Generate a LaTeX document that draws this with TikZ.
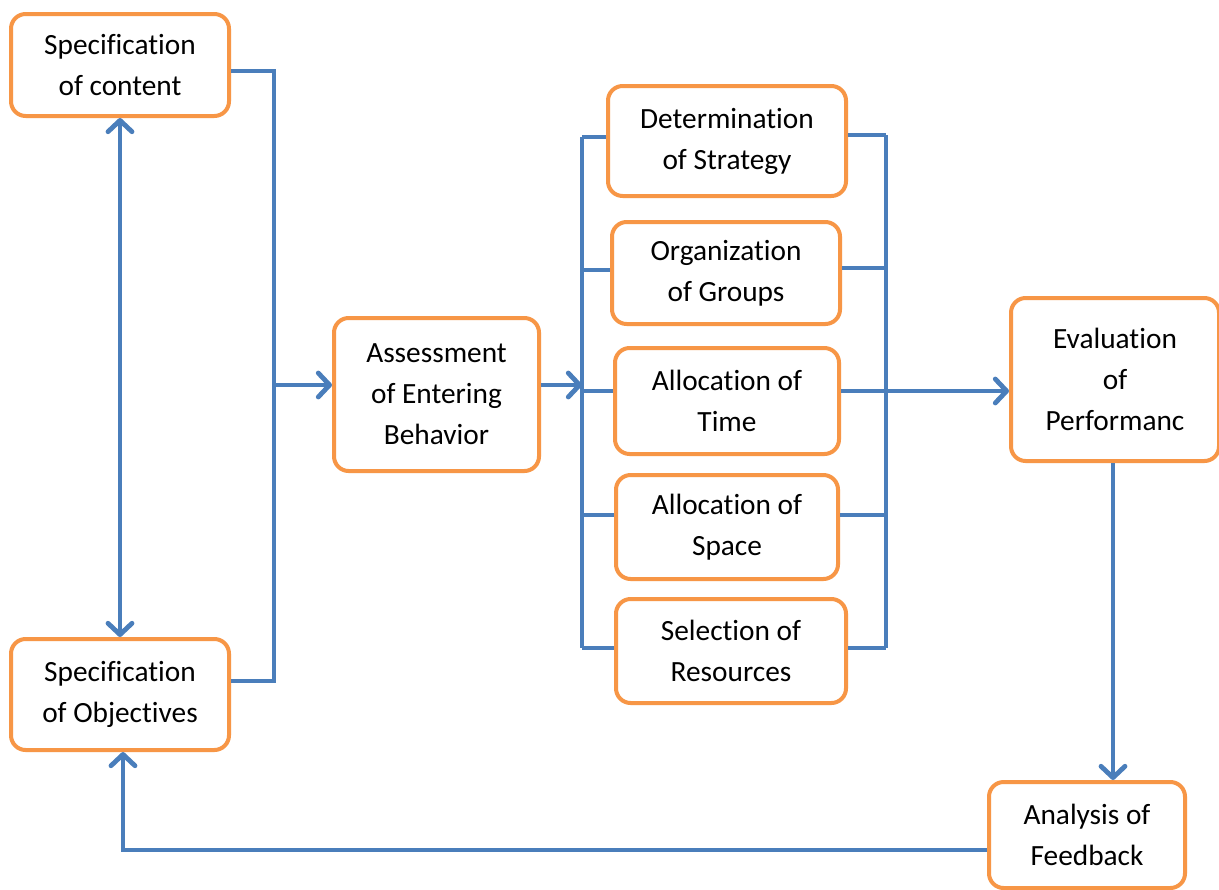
\documentclass[tikz,border=0pt]{standalone}
\usepackage{fontspec}
\setmainfont[RawFeature={-liga;-clig;-dlig;-calt}]{Carlito}
\usetikzlibrary{arrows.meta}
\definecolor{boxorange}{HTML}{F79646}
\definecolor{linkblue}{HTML}{4A7EBB}
\begin{document}
\begin{tikzpicture}[x=0.75pt,y=-0.75pt,
  box/.style 2 args={draw=boxorange, line width=3pt, rounded corners=11pt,
    fill=white, align=center, inner sep=0pt,
    minimum width=#1*0.75pt, minimum height=#2*0.75pt,
    font=\fontsize{22}{30.75}\selectfont},
  conn/.style={draw=linkblue, line width=3.2pt},
  tipb/.style={},
  arr/.style={conn, -{Straight Barb[length=8.5pt,width=18pt,line width=3.6pt,line cap=round,line join=round]}},
  arrtwo/.style={conn, {Straight Barb[length=8.5pt,width=18pt,line width=3.6pt,line cap=round,line join=round]}-{Straight Barb[length=8.5pt,width=18pt,line width=3.6pt,line cap=round,line join=round]}}
]
\useasboundingbox (0,0) rectangle (1219,889);
\clip (0,0) rectangle (1219,889);
\fill[white] (0,0) rectangle (1219,889);

% nodes
\node[box={218}{102}] (sc) at (120,65) {Specification\\of content};
\node[box={218}{111}] (so) at (120,694.5) {Specification\\of Objectives};
\node[box={205}{153}] (ae) at (436.5,394.5) {Assessment\\of Entering\\Behavior};
\node[box={238}{110}] (ds) at (727,141) {Determination\\of Strategy};
\node[box={228}{102}] (og) at (726,273) {Organization\\of Groups};
\node[box={224}{106}] (at) at (727,401) {Allocation of\\Time};
\node[box={222}{104}] (as) at (727,527) {Allocation of\\Space};
\node[box={230}{104}] (sr) at (731,651) {Selection of\\Resources};
\node[box={208}{163}] (ep) at (1115,379.5) {Evaluation\\of\\Performanc};
\node[box={196}{106}] (af) at (1087,835) {Analysis of\\Feedback};

% junction coordinates
\coordinate (ltop) at (274,71);
\coordinate (lbot) at (274,681);
\coordinate (lmid) at (274,385);
\coordinate (btop) at (582,137);
\coordinate (bbot) at (582,648);
\coordinate (bmid) at (582,385);
\coordinate (rtop) at (886,135);
\coordinate (rbot) at (886,648);
\coordinate (rmid) at (886,391);
\coordinate (ev) at (1113,463);
\coordinate (fb) at (123,850);

% left join
\draw[conn] (sc.east |- ltop) -- (ltop) -- (lbot) -- (so.east |- lbot);
\draw[arr] (lmid) -- (ae.west |- lmid);
\draw[arrtwo] (sc.south) -- (so.north);

% left bracket
\draw[conn] (btop) -- (bbot);
\draw[arr] (ae.east |- bmid) -- (bmid);
\draw[conn] (btop) -- (ds.west |- btop);
\draw[conn] (btop |- 0,270) -- (og.west |- 0,270);
\draw[conn] (btop |- 0,391) -- (at.west |- 0,391);
\draw[conn] (btop |- 0,515) -- (as.west |- 0,515);
\draw[conn] (bbot) -- (sr.west |- bbot);

% right bracket
\draw[conn] (rtop) -- (rbot);
\draw[conn] (ds.east |- rtop) -- (rtop);
\draw[conn] (og.east |- 0,268) -- (rtop |- 0,268);
\draw[conn] (at.east |- rmid) -- (rmid);
\draw[conn] (as.east |- 0,515) -- (rtop |- 0,515);
\draw[conn] (sr.east |- rbot) -- (rbot);
\draw[arr] (rmid) -- (ep.west |- rmid);

% evaluation to feedback
\draw[arr] (ev) -- (ev |- af.north);
% feedback loop
\draw[arr] (af.west |- fb) -- (fb) -- (so.south -| fb);
\end{tikzpicture}
\end{document}
